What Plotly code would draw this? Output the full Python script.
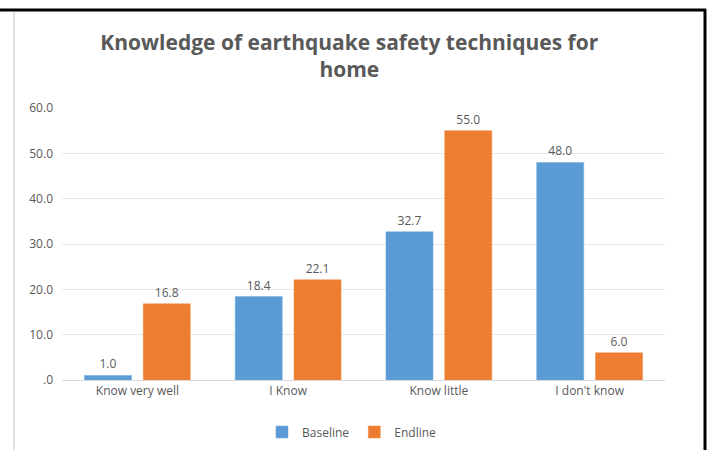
import plotly.graph_objects as go

categories = ["Know very well", "I Know", "Know little", "I don't know"]
baseline = [1.0, 18.4, 32.7, 48.0]
endline = [16.8, 22.1, 55.0, 6.0]
y_tick_vals = [0, 10, 20, 30, 40, 50, 60]
y_tick_text = [".0", "10.0", "20.0", "30.0", "40.0", "50.0", "60.0"]

W, H = 710, 450
L, R, T, B = 62, 45, 108, 70
pw, ph = W - L - R, H - T - B

def px(x):
    return (x - L) / pw

def py(y):
    return (H - B - y) / ph

font_fam = "Open Sans, Noto Sans, sans-serif"
gray = "#595959"

fig = go.Figure()
fig.add_trace(go.Bar(
    name="Baseline", x=categories, y=baseline,
    marker=dict(color="#5B9BD5", line=dict(color="#6FA8DC", width=0.5)),
    text=[f"{v:.1f}" for v in baseline], textposition="outside",
    textfont=dict(size=12, color=gray, family=font_fam), cliponaxis=False,
))
fig.add_trace(go.Bar(
    name="Endline", x=categories, y=endline,
    marker=dict(color="#ED7D31", line=dict(color="#F08A45", width=0.5)),
    text=[f"{v:.1f}" for v in endline], textposition="outside",
    textfont=dict(size=12, color=gray, family=font_fam), cliponaxis=False,
))

fig.update_layout(
    width=W, height=H,
    margin=dict(l=L, r=R, t=T, b=B, autoexpand=False),
    paper_bgcolor="white", plot_bgcolor="white",
    barmode="group", bargap=0.22, bargroupgap=0.2,
    title=dict(
        text="<b>Knowledge of earthquake safety techniques for<br>home</b>",
        x=0.492, xref="container", xanchor="center",
        y=1 - 50 / H, yref="container", yanchor="middle",
        font=dict(size=21, color=gray, family=font_fam),
    ),
    font=dict(family=font_fam, color=gray, size=12),
    showlegend=True,
    legend=dict(
        orientation="h", x=352 / W, xref="container", xanchor="center",
        y=1 - 432 / H, yref="container", yanchor="middle",
        font=dict(size=12, color=gray, family=font_fam),
        itemwidth=30, traceorder="normal",
    ),
    xaxis=dict(
        showgrid=False, showline=True, linecolor="#D9D9D9", linewidth=1,
        ticks="", tickfont=dict(size=12, color=gray), fixedrange=True,
    ),
    yaxis=dict(
        range=[0, 60], tickvals=y_tick_vals, ticktext=y_tick_text,
        showgrid=True, gridcolor="#E8E8E8", gridwidth=1, zeroline=False,
        showline=False, ticks="", tickfont=dict(size=12, color=gray),
        ticklabelstandoff=8,
    ),
    shapes=[
        dict(type="line", xref="paper", yref="paper",
             x0=px(0), x1=px(706), y0=py(10), y1=py(10),
             line=dict(color="black", width=3)),
        dict(type="line", xref="paper", yref="paper",
             x0=px(705), x1=px(705), y0=py(9), y1=py(452),
             line=dict(color="black", width=3)),
        dict(type="line", xref="paper", yref="paper",
             x0=px(14), x1=px(14), y0=py(12), y1=py(452),
             line=dict(color="#E0E0E0", width=2)),
    ],
)

fig.write_html(
    "out.html",
    config={"displayModeBar": False},
    post_script="document.body.style.margin='0';document.body.style.overflow='hidden';",
)
